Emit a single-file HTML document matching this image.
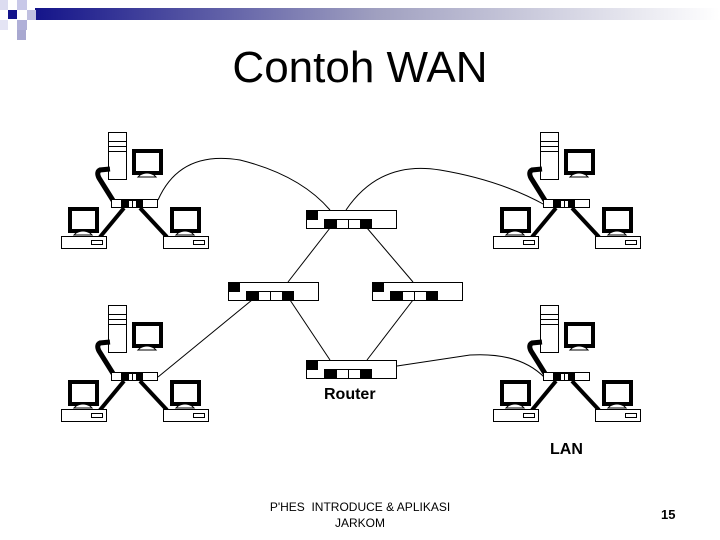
<!DOCTYPE html>
<html><head><meta charset="utf-8"><style>
body{margin:0;width:720px;height:540px;background:#fff;overflow:hidden;position:relative;font-family:"Liberation Sans",sans-serif}
.t{position:absolute;white-space:nowrap}
</style></head><body>
<svg width="720" height="540" style="position:absolute;left:0;top:0">
<defs>
<linearGradient id="g" x1="0" x2="1"><stop offset="0" stop-color="#14148a"/><stop offset="0.5" stop-color="#a0a0c0"/><stop offset="1" stop-color="#fff"/></linearGradient>
<g id="router">
<rect x="0.5" y="0.5" width="90" height="18" fill="#fff" stroke="#000"/>
<rect x="0" y="0" width="12" height="10" fill="#000"/>
<rect x="18" y="9" width="12" height="10" fill="#000"/>
<rect x="30.5" y="9.5" width="12" height="9" fill="#fff" stroke="#000"/>
<rect x="42.5" y="9.5" width="12" height="9" fill="#fff" stroke="#000"/>
<rect x="54" y="9" width="12" height="10" fill="#000"/>
</g>
<g id="mon">
<rect x="2" y="2" width="27" height="22" fill="#fff" stroke="#000" stroke-width="4"/>
<path d="M8 26 Q15 22 22 26 L24 28 L6 28 Z" fill="#fff" stroke="#000"/>
</g>
<g id="pc">
<use href="#mon" x="7" y="0"/>
<rect x="0.5" y="29.5" width="45" height="12" fill="#fff" stroke="#000"/>
<rect x="30.5" y="33.5" width="11" height="4" fill="#fff" stroke="#000"/>
</g>
<g id="lan">
<rect x="108.5" y="132.5" width="18" height="47" fill="#fff" stroke="#000"/>
<line x1="109" y1="141.5" x2="126" y2="141.5" stroke="#000"/>
<line x1="109" y1="146.5" x2="126" y2="146.5" stroke="#000"/>
<line x1="109" y1="151.5" x2="126" y2="151.5" stroke="#000"/>
<use href="#mon" x="132" y="149"/>
<path d="M110 169 L100 170 Q96 172 99 178 L114 202" fill="none" stroke="#000" stroke-width="5"/>
<rect x="111.5" y="199.5" width="46" height="8" fill="#fff" stroke="#000"/>
<rect x="121" y="200" width="7" height="8" fill="#000"/>
<rect x="128.5" y="200.5" width="4" height="7" fill="#fff" stroke="#000"/>
<rect x="132.5" y="200.5" width="4" height="7" fill="#fff" stroke="#000"/>
<rect x="137" y="200" width="6" height="8" fill="#000"/>
<line x1="124" y1="208" x2="100" y2="237" stroke="#000" stroke-width="4"/>
<line x1="140" y1="208" x2="167" y2="237" stroke="#000" stroke-width="4"/>
<use href="#pc" x="61" y="207"/>
<use href="#pc" x="163" y="207"/>
</g>
</defs>
<rect x="35" y="8" width="685" height="12" fill="url(#g)"/>
<rect x="0" y="0" width="8" height="10" fill="#dcdcf0"/>
<rect x="17" y="0" width="10" height="10" fill="#c8c8e8"/>
<rect x="8" y="10" width="9" height="9" fill="#14148a"/>
<rect x="27" y="10" width="9" height="10" fill="#c0c0e0"/>
<rect x="0" y="20" width="8" height="10" fill="#e4e4f4"/>
<rect x="17" y="20" width="10" height="10" fill="#b0b0d8"/>
<rect x="17" y="30" width="9" height="10" fill="#a8a8d0"/>
<g fill="none" stroke="#000" stroke-width="1">
<path d="M158 200 Q180 150 240 160 Q300 175 330 210"/>
<path d="M346 210 Q380 160 440 170 Q500 180 545 205"/>
<line x1="330" y1="228" x2="288" y2="282"/>
<line x1="367" y1="228" x2="413" y2="282"/>
<line x1="252" y1="300" x2="158" y2="377"/>
<line x1="290" y1="300" x2="330" y2="360"/>
<line x1="413" y1="300" x2="367" y2="360"/>
<path d="M397 366 L470 355 Q520 352 545 378"/>
</g>
<use href="#lan"/>
<use href="#lan" x="432"/>
<use href="#lan" y="173"/>
<use href="#lan" x="432" y="173"/>
<use href="#router" x="306" y="210"/>
<use href="#router" x="228" y="282"/>
<use href="#router" x="372" y="282"/>
<use href="#router" x="306" y="360"/>
</svg>
<div class="t" style="left:0;width:720px;text-align:center;top:43px;font-size:44px">Contoh WAN</div>
<div class="t" style="left:324px;top:386px;font-size:16px;font-weight:bold">Router</div>
<div class="t" style="left:550px;top:441px;font-size:16px;font-weight:bold">LAN</div>
<div class="t" style="left:260px;width:200px;text-align:center;top:499px;font-size:12px;line-height:16px">P'HES&nbsp; INTRODUCE &amp; APLIKASI<br>JARKOM</div>
<div class="t" style="left:661px;top:507px;font-size:13px;font-weight:bold">15</div>
</body></html>
